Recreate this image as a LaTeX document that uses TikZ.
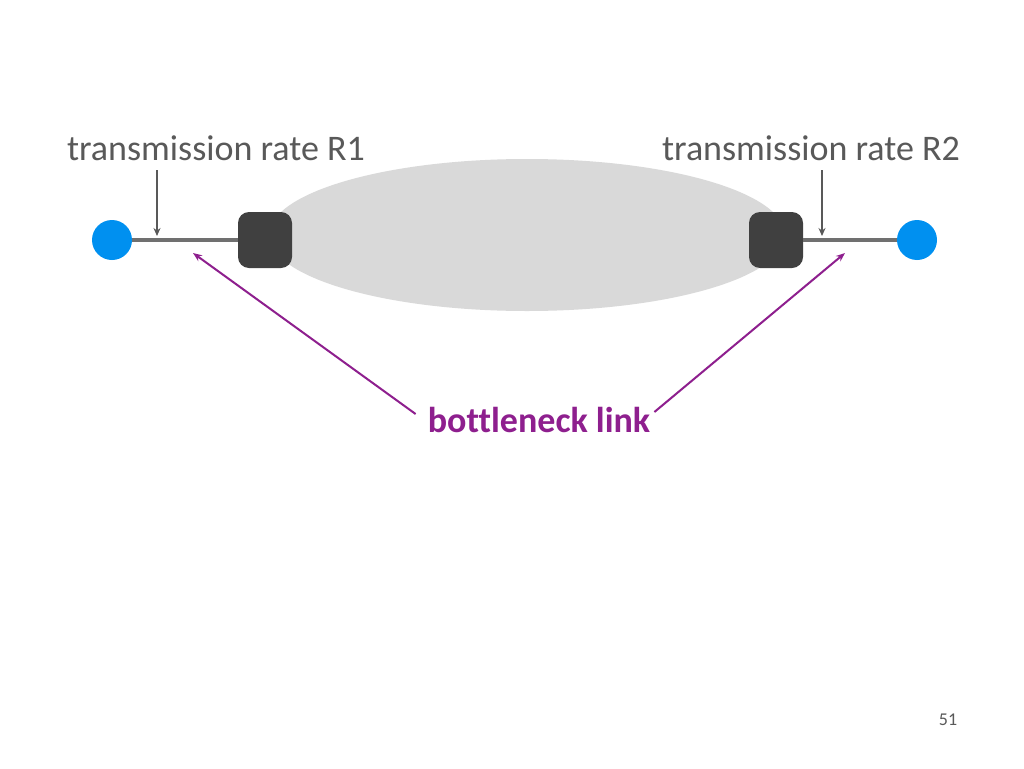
\documentclass[tikz,border=0pt]{standalone}
\usepackage{fontspec}
\setmainfont{Carlito}[Ligatures=NoCommon]
\usetikzlibrary{arrows.meta,shapes.geometric}
\definecolor{txtgray}{HTML}{595959}
\definecolor{linkgray}{HTML}{707070}
\definecolor{cloudgray}{HTML}{D9D9D9}
\definecolor{routerfill}{HTML}{404040}
\definecolor{hostblue}{HTML}{0090F0}
\definecolor{bpurple}{HTML}{8E1F8E}
\begin{document}
\begin{tikzpicture}[x=1pt,y=-1pt,
  host/.style={circle,fill=hostblue,minimum size=40pt,inner sep=0pt},
  router/.style={rectangle,rounded corners=11pt,fill=routerfill,minimum width=54pt,minimum height=56pt,inner sep=0pt},
  rate/.style={text=txtgray,font=\fontsize{36}{42}\selectfont,inner sep=0pt},
  link/.style={draw=linkgray,line width=4.5pt},
  pointer/.style={draw=txtgray,line width=2pt,-{Stealth[length=8pt,width=7pt]}},
  bneck/.style={draw=bpurple,line width=2pt,-{Stealth[length=9pt,width=7pt]}}]
\useasboundingbox (0,0) rectangle (1024,768);
\fill[white] (0,0) rectangle (1024,768);
\node[ellipse,fill=cloudgray,minimum width=516pt,minimum height=152pt,inner sep=0pt] (cloud) at (527,235) {};
\node[host] (h1) at (112,240) {};
\node[host] (h2) at (917,240) {};
\node[router] (r1) at (265,240) {};
\node[router] (r2) at (776,240) {};
\draw[link] (h1) -- (r1);
\draw[link] (r2) -- (h2);
\node[rate] (t1) at (216,148) {transmission rate R1};
\node[rate] (t2) at (811,148) {transmission rate R2};
\coordinate (a1s) at (157,170);
\coordinate (a1e) at (157,236);
\coordinate (a2s) at (822,170);
\coordinate (a2e) at (822,236);
\draw[pointer] (a1s) -- (a1e);
\draw[pointer] (a2s) -- (a2e);
\node[text=bpurple,font=\bfseries\fontsize{36}{42}\selectfont,inner sep=0pt] (bl) at (539,420) {bottleneck link};
\coordinate (b1) at (193,253);
\coordinate (b2) at (845,253);
\draw[bneck] (bl.west) ++(-12,-6) -- (b1);
\draw[bneck] (bl.east) ++(4,-8) -- (b2);
\node[text=txtgray,font=\fontsize{18}{22}\selectfont,inner sep=0pt] (pg) at (948,720) {51};
\end{tikzpicture}
\end{document}
